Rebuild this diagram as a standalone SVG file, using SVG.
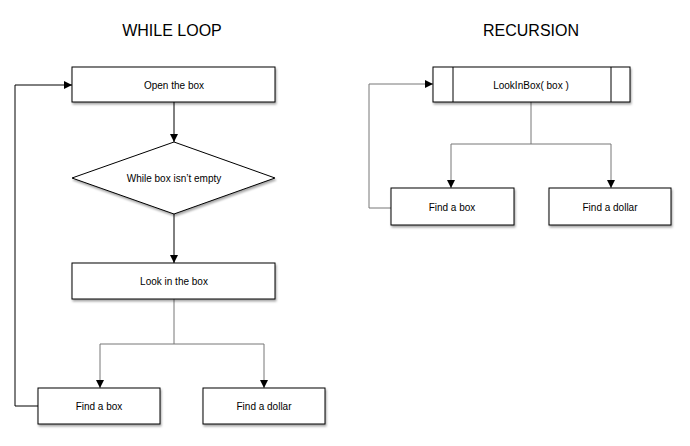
<svg xmlns="http://www.w3.org/2000/svg" width="690" height="446" viewBox="0 0 690 446">
<style>
.box{fill:#fff;stroke:#000;stroke-width:1;filter:url(#sh)}
.t{font-family:"Liberation Sans",Arial,sans-serif;font-size:10px;fill:#000;text-anchor:middle;dominant-baseline:central}
.h{font-family:"Liberation Sans",Arial,sans-serif;font-size:16px;fill:#000;text-anchor:middle}
.k{fill:none;stroke:#000;stroke-width:1}
.g{fill:none;stroke:#777;stroke-width:1}
</style>
<defs>
<filter id="sh" x="-10%" y="-20%" width="130%" height="150%">
<feDropShadow dx="1" dy="2" stdDeviation="1" flood-color="#000" flood-opacity="0.35"/>
</filter>
<marker id="a" markerWidth="8" markerHeight="8" refX="8" refY="4" orient="auto" markerUnits="userSpaceOnUse">
<path d="M0,0 L8,4 L0,8 z" fill="#000"/>
</marker>
</defs>
<text class="h" x="172" y="36">WHILE LOOP</text>
<text class="h" x="531" y="36">RECURSION</text>
<g id="connectors">
<path class="k" d="M174,102 V142" marker-end="url(#a)"/>
<path class="k" d="M174,214 V263" marker-end="url(#a)"/>
<path class="g" d="M174,299 V344 H100 V388" marker-end="url(#a)"/>
<path class="g" d="M174,344 H264 V388" marker-end="url(#a)"/>
<path class="k" d="M38,406 H15 V85 H72" marker-end="url(#a)"/>
<path class="g" d="M531,102 V144 H451 V188" marker-end="url(#a)"/>
<path class="g" d="M531,144 H611 V188" marker-end="url(#a)"/>
<path class="g" d="M391,208 H369 V84 H433" marker-end="url(#a)"/>
</g>
<g id="open-box"><rect class="box" x="72" y="67" width="203" height="35"/><text class="t" x="174" y="85">Open the box</text></g>
<g id="while-box"><polygon class="box" points="174,142 275,178 174,214 72,178"/><text class="t" x="174" y="178">While box isn’t empty</text></g>
<g id="look-box"><rect class="box" x="72" y="263" width="203" height="36"/><text class="t" x="174" y="281">Look in the box</text></g>
<g id="find-box-left"><rect class="box" x="38" y="388" width="122" height="36"/><text class="t" x="99" y="406">Find a box</text></g>
<g id="find-dollar-left"><rect class="box" x="203" y="388" width="122" height="36"/><text class="t" x="264" y="406">Find a dollar</text></g>
<g id="lookinbox"><rect class="box" x="433" y="67" width="197" height="35"/><path class="k" d="M453,67 V102 M611,67 V102"/><text class="t" x="531" y="85">LookInBox( box )</text></g>
<g id="find-box-right"><rect class="box" x="391" y="188" width="123" height="37"/><text class="t" x="452" y="207">Find a box</text></g>
<g id="find-dollar-right"><rect class="box" x="549" y="188" width="122" height="37"/><text class="t" x="610" y="207">Find a dollar</text></g>
</svg>
